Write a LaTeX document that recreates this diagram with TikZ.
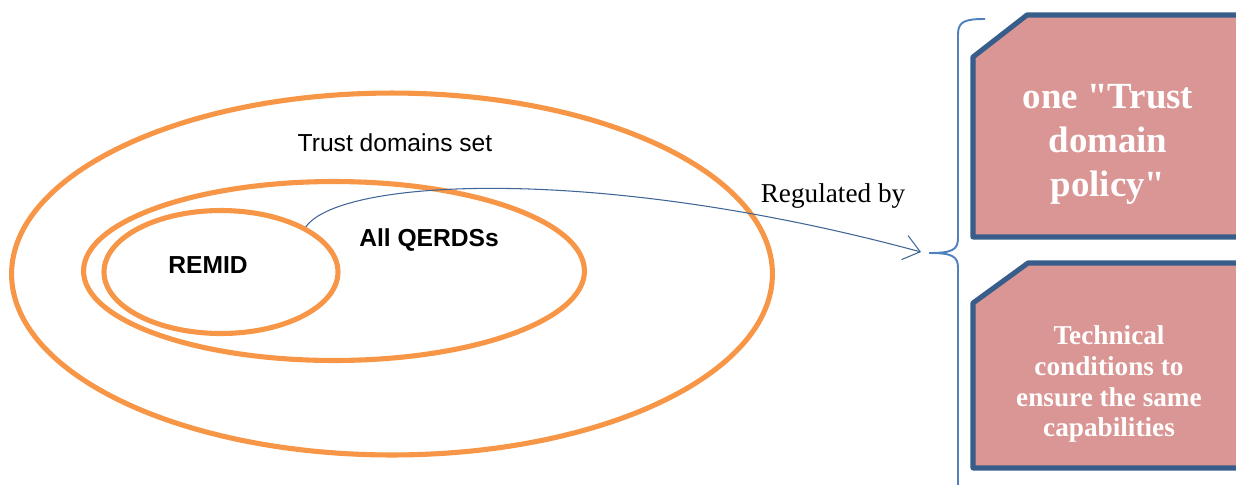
\documentclass[tikz,border=0pt]{standalone}
\usepackage{fontspec}
\setmainfont{Liberation Serif}
\setsansfont{Liberation Sans}
\usepackage{tikz}
\usetikzlibrary{positioning, arrows.meta, shapes.geometric}
\definecolor{setorange}{HTML}{F79646}
\definecolor{linkblue}{HTML}{3F6496}
\definecolor{bracecol}{HTML}{4F81BD}
\definecolor{boxfill}{HTML}{D99694}
\definecolor{boxline}{HTML}{385D8A}
\tikzset{
		set/.style={
			ellipse,
			draw=setorange,
			line width=2.9pt,
			inner sep=0pt
		},
		setlabel/.style={
			font=\sffamily\fontsize{14}{16}\selectfont
		},
		polbox/.style={
			draw=boxline,
			fill=boxfill,
			line width=2.9pt,
			line join=round
		},
		boxtext/.style={
			align=center,
			text=white,
			inner sep=0pt
		}
	}
\begin{document}
\begin{tikzpicture}[x=0.02cm, y=-0.02cm]
		\useasboundingbox (0,0) rectangle (1236,484);
		%sets:
		\node[set, minimum width=15.22cm, minimum height=7.24cm] (trust) at (392,274) {};
		\node[set, minimum width=10.02cm, minimum height=3.58cm] (qerds) at (334,271) {};
		\node[set, minimum width=4.68cm, minimum height=2.46cm] (remid) at (221,272) {};
		\node[setlabel] (trustlbl) at (395,143) {Trust domains set};
		\node[setlabel, font=\sffamily\bfseries\fontsize{14}{16}\selectfont] (qerdslbl) at (429,240) {All QERDSs};
		\node[setlabel, font=\sffamily\bfseries\fontsize{14}{16}\selectfont] (remidlbl) at (208,265) {REMID};
		%brace and boxes:
		\coordinate (bracetop) at (985,19);
		\coordinate (bracetip) at (929,253);
		\coordinate (bracebot) at (958,490);
		\draw[bracecol, line width=1.1pt] (bracetop) .. controls (966,19) and (958,21) .. (958,34)
			-- (958,238) .. controls (958,250) and (952,253) .. (bracetip)
			.. controls (952,253) and (958,256) .. (958,268) -- (bracebot);
		\draw[polbox] (973,57) -- (1027,15) -- (1246,15) -- (1246,237) -- (973,237) -- cycle;
		\draw[polbox] (973,303) -- (1028,263) -- (1246,263) -- (1246,468) -- (973,468) -- cycle;
		\node[boxtext, font=\bfseries\fontsize{21}{25}\selectfont] (policy) at (1108,144) {one \textquotedbl Trust\\domain\\policy\textquotedbl};
		\node[boxtext, font=\bfseries\fontsize{15.5}{17.6}\selectfont] (tech) at (1109,384) {Technical\\conditions to\\ensure the same\\capabilities};
		%arrow:
		\coordinate (arrowend) at (921,252);
		\draw[linkblue, line width=0.6pt, -{Straight Barb[length=3.2mm, width=5mm]}] (remid.28) .. controls (340,178) and (600,165) .. (arrowend);
		\node[font=\fontsize{15.5}{18}\selectfont] (reglbl) at (833,196) {Regulated by};
	\end{tikzpicture}
\end{document}
